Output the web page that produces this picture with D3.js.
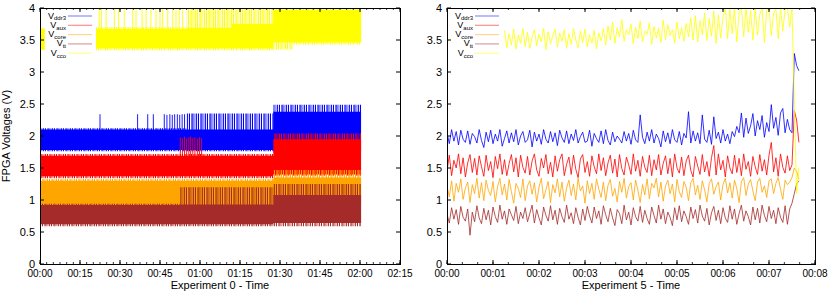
<!DOCTYPE html>
<html lang="en">
<head>
<meta charset="UTF-8">
<title>FPGA voltages</title>
<script src="https://d3js.org/d3.v7.min.js"></script>
<style>
    body { margin: 0; background: #fff; }
    svg text { font-family: "Liberation Sans", Arial, sans-serif; fill: #000; }
</style>
</head>
<body>
<svg id="chart" width="830" height="291"></svg>
<script>
    // series names / colours (gnuplot draw order)
    var seriesNames = ["ddr3", "aux", "core", "tt", "cco"];
    var seriesColors = ["#0000ff", "#ff0000", "#ffa500", "#a52a2a", "#ffff00"];

    // ---- Experiment 0 (minutes): [t, coreLo, coreHi, fringeLo, fringeHi]
    var ddr3Left = [
        [0, 1.78, 2.10, 1.76, 2.12],
        [55, 1.78, 2.10, 1.76, 2.35],
        [87.5, 1.76, 2.38, 1.74, 2.49],
        [120.4, 1.76, 2.38, 1.74, 2.49]
    ];
    var auxLeft = [
        [0, 1.37, 1.69, 1.34, 1.72],
        [87.5, 1.40, 1.95, 1.38, 2.04],
        [120.4, 1.40, 1.95, 1.38, 2.04]
    ];
    var coreLeft = [
        [0, 0.92, 1.30, 0.90, 1.33],
        [87.5, 0.95, 1.35, 0.90, 1.47],
        [120.4, 0.95, 1.35, 0.90, 1.47]
    ];
    var ttLeft = [
        [0, 0.62, 0.92, 0.59, 0.94],
        [52.5, 0.62, 0.93, 0.59, 1.20],
        [87.5, 0.64, 1.08, 0.59, 1.25],
        [120.4, 0.64, 1.08, 0.59, 1.25]
    ];
    var ccoLeft = [
        [0, 3.35, 3.68, 3.34, 3.68],
        [1.7, 3.35, 3.68, 3.34, 3.68],
        [1.7, null, null, null, null],
        [21, 3.37, 3.67, 3.34, 3.70],
        [55, 3.37, 3.69, 3.34, 4.0],
        [72, 3.37, 3.75, 3.34, 4.0],
        [87.5, 3.46, 3.97, 3.35, 4.0],
        [95, 3.46, 3.97, 3.43, 4.0],
        [120.4, 3.46, 3.97, 3.43, 4.0]
    ];
    // isolated spikes [t, value]
    var ddr3LeftSpikes = [[22.5, 2.34], [36.6, 2.34], [40.4, 2.34], [42.5, 2.34], [46.6, 2.34], [47.6, 2.33],
        [48.7, 2.34], [49.6, 2.33], [50.5, 2.34], [51.5, 2.34], [52.4, 2.33], [53.3, 2.34], [54.2, 2.34]];
    var auxLeftSpikes = [[52.6, 1.98], [53.4, 1.97], [54.2, 1.99], [55.0, 1.96], [55.8, 1.98], [56.5, 1.99],
        [57.3, 1.97], [58.1, 1.98], [59.0, 1.96], [59.8, 1.98], [60.6, 1.97]];
    var ccoLeftSpikes = [[22.2, 4], [23, 4], [24.8, 4], [27.9, 4], [29.5, 4], [31.6, 4], [34.8, 4], [36, 4],
        [38.3, 4], [39.8, 4], [41.6, 4], [43.5, 4], [45, 4], [46, 4], [47.9, 4], [49.8, 4], [51, 4],
        [52.2, 4], [53.5, 4]];

    // ---- Experiment 5: one sample every 0.05 min, values in hundredths of a volt
    var rightStep = 0.05;
    var ddr3Right = [205,188,210,192,207,186,209,195,190,208,
        187,204,199,189,210,193,182,206,191,209,
        188,203,192,210,184,196,208,189,205,191,
        210,186,200,207,190,194,209,183,206,192,
        203,187,210,195,189,207,191,205,185,209,
        197,190,208,188,203,193,210,189,199,206,
        190,192,209,184,204,196,190,208,188,210,
        193,186,206,191,200,195,189,207,192,204,
        187,209,194,190,233,198,188,206,192,210,
        189,203,196,183,208,191,205,188,210,194,
        190,207,186,204,197,238,189,208,192,205,
        188,233,195,190,209,187,230,196,206,189,
        210,192,203,188,207,199,215,205,236,198,
        228,204,216,235,200,224,210,232,198,221,
        207,249,212,229,201,236,243,205,226,210,
        205,329,310,302];
    var auxRight = [145,170,138,162,150,172,141,166,136,158,
        171,143,165,139,169,152,137,170,146,160,
        135,168,149,172,140,163,138,157,171,144,
        166,136,170,151,142,168,139,161,172,147,
        137,165,150,171,141,159,136,169,145,163,
        172,138,156,167,140,170,148,135,164,171,
        143,160,137,169,152,141,172,146,166,138,
        158,170,142,164,136,171,149,139,167,155,
        140,172,145,162,137,168,151,143,170,138,
        163,147,171,139,157,169,141,165,136,172,
        150,142,167,138,161,170,146,136,168,153,
        140,171,144,160,137,166,185,139,172,147,
        162,136,169,150,141,170,143,165,138,172,
        148,160,137,168,152,140,171,145,163,139,
        170,190,144,166,137,172,151,142,169,146,
        155,240,225,190];
    var coreRight = [122,105,130,98,126,112,133,101,119,128,
        96,124,110,134,103,127,99,131,115,107,
        129,97,121,134,108,125,100,132,113,95,
        126,118,104,133,99,122,130,109,127,97,
        120,134,102,116,129,96,124,111,133,105,
        128,98,119,131,107,125,100,134,114,122,
        95,130,110,126,101,133,117,104,128,99,
        123,132,106,118,97,129,112,134,103,121,
        127,100,131,115,96,124,108,133,102,126,
        119,134,105,128,98,122,131,110,125,97,
        132,113,104,129,120,99,127,134,108,123,
        101,130,116,97,126,133,109,121,128,100,
        124,134,111,127,103,131,118,96,129,135,
        107,125,132,114,99,128,134,112,122,104,
        130,133,110,126,135,117,101,131,124,128,
        135,150,145,132];
    var ttRight = [78,64,88,70,85,62,90,73,67,86,
        45,81,66,91,72,63,87,69,84,61,
        89,74,65,92,70,83,62,86,77,68,
        90,63,81,71,88,66,79,92,64,85,
        72,61,89,76,67,91,69,84,62,87,
        74,65,92,70,80,63,88,73,61,86,
        68,90,75,64,89,71,83,62,91,77,
        66,87,72,60,85,79,63,92,69,81,
        61,88,74,67,90,65,84,71,62,89,
        76,64,92,70,86,63,81,73,60,88,
        69,91,66,83,74,62,89,71,85,64,
        92,75,67,87,61,80,90,68,84,63,
        88,72,65,91,70,86,62,79,92,67,
        83,74,61,89,69,87,64,92,76,66,
        90,71,84,63,88,73,65,91,62,86,
        95,110,125,130];
    var ccoRight = [345,352,null,null,null,null,null,null,null,null,
        null,null,null,null,null,null,null,null,null,null,
        null,null,null,null,null,365,338,360,342,367,
        336,358,345,368,340,362,337,355,366,341,
        359,347,368,335,363,344,357,367,339,361,
        348,366,337,360,343,368,350,338,364,346,
        367,339,358,345,365,336,361,349,368,342,
        372,350,378,345,369,355,382,348,366,358,
        375,344,370,352,380,347,364,359,377,343,
        371,353,368,346,381,350,374,357,366,345,
        378,352,369,348,376,355,385,350,388,347,
        380,358,392,349,384,356,395,345,389,353,
        386,400,352,398,360,400,347,393,400,355,
        400,362,396,350,400,358,390,400,346,397,
        400,357,392,400,352,400,364,398,400,370,
        400,250,110,150];

    var yTicks = [0, 0.5, 1, 1.5, 2, 2.5, 3, 3.5, 4];
    var leftXTicks = [0, 15, 30, 45, 60, 75, 90, 105, 120, 135];
    var rightXTicks = [0, 1, 2, 3, 4, 5, 6, 7, 8];

    var svg = d3.select("#chart");
    var plotTop = 8, plotBottom = 264;

    // striped fills imitate the dense, overplotted spikes of the raw trace
    var defs = svg.append("defs");
    var stripes = [[0, 1], [2.1, 0.6], [3.3, 1.2], [5.6, 0.7], [7.1, 1]];
    seriesColors.forEach(function (c, i) {
        var p = defs.append("pattern").attr("id", "stripe" + i).attr("patternUnits", "userSpaceOnUse")
            .attr("width", 9).attr("height", 4).attr("x", i * 2);
        stripes.forEach(function (s) {
            p.append("rect").attr("x", s[0]).attr("y", 0).attr("width", s[1]).attr("height", 4).attr("fill", c);
        });
    });

    function pad(n) { return (n < 10 ? "0" : "") + n; }
    function hhmm(m) { return pad(Math.floor(m / 60)) + ":" + pad(m % 60); }

    function drawFrame(id, x, y, xTicks, minorStep, fmt, xLabel, yLabel) {
        var g = svg.append("g");
        var x0 = x.range()[0], x1 = x.range()[1];

        // ticks (inward, mirrored)
        var minors = d3.range(x.domain()[0], x.domain()[1] + 1e-6, minorStep);
        minors.forEach(function (m) {
            g.append("line").attr("x1", x(m)).attr("x2", x(m)).attr("y1", plotTop).attr("y2", plotTop + 2)
                .attr("stroke", "#000").attr("stroke-width", 0.8);
            g.append("line").attr("x1", x(m)).attr("x2", x(m)).attr("y1", plotBottom).attr("y2", plotBottom - 2)
                .attr("stroke", "#000").attr("stroke-width", 0.8);
        });
        xTicks.forEach(function (t) {
            g.append("line").attr("x1", x(t)).attr("x2", x(t)).attr("y1", plotTop).attr("y2", plotTop + 4).attr("stroke", "#000");
            g.append("line").attr("x1", x(t)).attr("x2", x(t)).attr("y1", plotBottom).attr("y2", plotBottom - 4).attr("stroke", "#000");
            g.append("text").attr("x", x(t)).attr("y", 277).attr("text-anchor", "middle")
                .style("font-size", "10px").text(fmt(t));
        });
        yTicks.forEach(function (v) {
            g.append("line").attr("x1", x0).attr("x2", x0 + 4).attr("y1", y(v)).attr("y2", y(v)).attr("stroke", "#000");
            g.append("line").attr("x1", x1).attr("x2", x1 - 4).attr("y1", y(v)).attr("y2", y(v)).attr("stroke", "#000");
            g.append("text").attr("x", x0 - 5).attr("y", y(v)).attr("dy", "0.34em").attr("text-anchor", "end")
                .style("font-size", "11px").text(String(v));
        });
        g.append("rect").attr("x", x0 + 0.5).attr("y", plotTop + 0.5).attr("width", x1 - x0).attr("height", plotBottom - plotTop)
            .attr("fill", "none").attr("stroke", "#000");

        g.append("text").attr("x", (x0 + x1) / 2).attr("y", 289).attr("text-anchor", "middle")
            .style("font-size", "11px").text(xLabel);
        if (yLabel) {
            g.append("text").attr("transform", "translate(10," + ((plotTop + plotBottom) / 2) + ") rotate(-90)")
                .attr("text-anchor", "middle").style("font-size", "11px").text(yLabel);
        }

        // legend
        var lg = g.append("g");
        seriesNames.forEach(function (name, i) {
            var cy = 16 + i * 9.3;
            var t = lg.append("text").attr("x", x0 + 26).attr("y", cy + 2.5).attr("text-anchor", "end")
                .style("font-size", "9px");
            t.append("tspan").text("V");
            t.append("tspan").attr("dy", 1.8).style("font-size", "6px").text(name);
            lg.append("line").attr("x1", x0 + 28).attr("x2", x0 + 52).attr("y1", cy).attr("y2", cy)
                .attr("stroke", seriesColors[i]).attr("stroke-opacity", 0.45).attr("stroke-width", 1.2);
        });

        svg.append("clipPath").attr("id", id).append("rect")
            .attr("x", x0).attr("y", plotTop).attr("width", x1 - x0).attr("height", plotBottom - plotTop);
    }

    var xL = d3.scaleLinear().domain([0, 135]).range([40, 400]);
    var yL = d3.scaleLinear().domain([0, 4]).range([plotBottom, plotTop]);
    var yR = yL.copy();
    var xR = d3.scaleLinear().domain([0, 8]).range([447, 815]);

    // ---------- left panel ----------
    var leftBands = [ddr3Left, auxLeft, coreLeft, ttLeft, ccoLeft];
    var leftSpikes = [ddr3LeftSpikes, auxLeftSpikes, [], [], ccoLeftSpikes];

    var plotL = svg.append("g").attr("clip-path", "url(#clipL)");

    function bandAt(knots, t) {
        var k = null;
        knots.forEach(function (d) { if (d[0] <= t && d[1] != null) k = d; });
        return k;
    }

    leftBands.forEach(function (knots, i) {
        var fringe = d3.area().curve(d3.curveStepAfter)
            .defined(function (d) { return d[1] != null; })
            .x(function (d) { return xL(d[0]); })
            .y0(function (d) { return yL(d[3]); })
            .y1(function (d) { return yL(d[4]); });
        var core = d3.area().curve(d3.curveStepAfter)
            .defined(function (d) { return d[1] != null; })
            .x(function (d) { return xL(d[0]); })
            .y0(function (d) { return yL(d[1]); })
            .y1(function (d) { return yL(d[2]); });
        plotL.append("path").attr("d", fringe(knots)).attr("fill", "url(#stripe" + i + ")");
        plotL.append("path").attr("d", core(knots)).attr("fill", seriesColors[i]);
        plotL.selectAll(null).data(leftSpikes[i]).enter().append("line")
            .attr("x1", function (d) { return xL(d[0]); })
            .attr("x2", function (d) { return xL(d[0]); })
            .attr("y1", function (d) { return yL(bandAt(knots, d[0])[2]); })
            .attr("y2", function (d) { return yL(d[1]); })
            .attr("stroke", seriesColors[i]).attr("stroke-width", 0.9);
    });

    // ---------- right panel ----------
    var rightSeries = [ddr3Right, auxRight, coreRight, ttRight, ccoRight];
    var plotR = svg.append("g").attr("clip-path", "url(#clipR)");
    var line = d3.line()
        .defined(function (d) { return d != null; })
        .x(function (d, i) { return xR(i * rightStep); })
        .y(function (d) { return yR(d / 100); });
    rightSeries.forEach(function (vals, i) {
        plotR.append("path").attr("d", line(vals)).attr("fill", "none")
            .attr("stroke", seriesColors[i]).attr("stroke-width", 1).attr("stroke-opacity", 0.8);
    });

    drawFrame("clipL", xL, yL, leftXTicks, 2.5, hhmm, "Experiment 0 - Time", "FPGA Voltages (V)");
    drawFrame("clipR", xR, yR, rightXTicks, 1 / 3, function (m) { return "00:" + pad(m); }, "Experiment 5 - Time", null);
</script>
</body>
</html>
